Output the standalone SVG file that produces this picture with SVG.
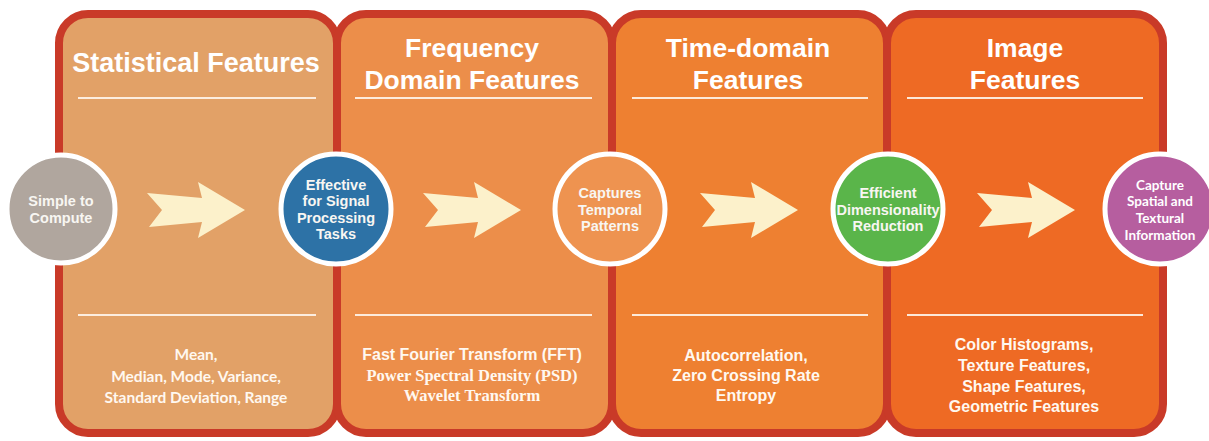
<svg xmlns="http://www.w3.org/2000/svg" width="1209" height="441" viewBox="0 0 1209 441">
  <style>
    .panel { stroke: #C93A28; stroke-width: 8; }
    .rule { stroke: #FFF6EC; stroke-width: 2; opacity: 0.9; }
    .title { font-family: "Liberation Sans", Arial, sans-serif; font-weight: 700; font-size: 26.5px; fill: #FFFFFF; text-anchor: middle; }
    .body { font-family: "Liberation Sans", Arial, sans-serif; font-weight: 700; font-size: 16px; fill: #FFF8F0; text-anchor: middle; }
    .body-h { font-family: Lato, "Open Sans", sans-serif; font-weight: 700; font-size: 15.5px; fill: #FFF8F0; text-anchor: middle; }
    .body-s { font-family: "Liberation Serif", "Times New Roman", serif; font-weight: 700; font-size: 16.5px; fill: #FFF8F0; text-anchor: middle; }
    .badge { stroke: #FFFFFF; stroke-width: 5; }
    .badge-t { font-family: "Liberation Sans", Arial, sans-serif; font-weight: 700; font-size: 14.5px; fill: #F8F6F2; text-anchor: middle; }
    .badge-h { font-family: Lato, "Open Sans", sans-serif; font-weight: 700; font-size: 13.5px; fill: #FFFFFF; text-anchor: middle; }
    .arrow { fill: #FCF1CB; }
  </style>
  <defs>
    <!-- swept chevron arrow, origin at tail-left, vertical centre at 0 -->
    <polygon id="chev" points="0,-17 55,-12 51,-28 98,0 51,28 55,12 2,17 15,0"/>
  </defs>

  <rect width="1209" height="441" fill="#FFFFFF"/>

  <!-- feature panels -->
  <g id="panel-statistical">
    <rect class="panel" x="59" y="14" width="278" height="419" rx="29" fill="#E2A167"/>
    <text class="title" x="196" y="72" style="font-size:27px">Statistical Features</text>
    <line class="rule" x1="78" y1="98" x2="316" y2="98"/>
    <line class="rule" x1="78" y1="315" x2="316" y2="315"/>
    <text class="body-h" x="196" y="360">Mean,</text>
    <text class="body-h" x="196" y="382">Median, Mode, Variance,</text>
    <text class="body-h" x="196" y="403">Standard Deviation, Range</text>
  </g>
  <g id="panel-frequency">
    <rect class="panel" x="337" y="14" width="275" height="419" rx="29" fill="#EC8E4A"/>
    <text class="title" x="472" y="57">Frequency</text>
    <text class="title" x="472" y="89">Domain Features</text>
    <line class="rule" x1="355" y1="98" x2="592" y2="98"/>
    <line class="rule" x1="355" y1="315" x2="592" y2="315"/>
    <text class="body" x="472" y="360">Fast Fourier Transform (FFT)</text>
    <text class="body-s" x="472" y="381">Power Spectral Density (PSD)</text>
    <text class="body-s" x="472" y="401">Wavelet Transform</text>
  </g>
  <g id="panel-time">
    <rect class="panel" x="612" y="14" width="275" height="419" rx="29" fill="#EE8031"/>
    <text class="title" x="748" y="57">Time-domain</text>
    <text class="title" x="748" y="89">Features</text>
    <line class="rule" x1="632" y1="98" x2="868" y2="98"/>
    <line class="rule" x1="632" y1="315" x2="868" y2="315"/>
    <text class="body" x="746" y="361">Autocorrelation,</text>
    <text class="body" x="746" y="381">Zero Crossing Rate</text>
    <text class="body" x="746" y="401">Entropy</text>
  </g>
  <g id="panel-image">
    <rect class="panel" x="887" y="14" width="276" height="419" rx="29" fill="#EE6A24"/>
    <text class="title" x="1025" y="57">Image</text>
    <text class="title" x="1025" y="89">Features</text>
    <line class="rule" x1="907" y1="98" x2="1143" y2="98"/>
    <line class="rule" x1="907" y1="315" x2="1143" y2="315"/>
    <text class="body" x="1024" y="350">Color Histograms,</text>
    <text class="body" x="1024" y="371">Texture Features,</text>
    <text class="body" x="1024" y="392">Shape Features,</text>
    <text class="body" x="1024" y="412">Geometric Features</text>
  </g>

  <!-- connectors: arrows between the benefit badges -->
  <g id="connectors">
    <use href="#chev" class="arrow" x="147" y="210"/>
    <use href="#chev" class="arrow" x="423" y="210"/>
    <use href="#chev" class="arrow" x="700" y="210"/>
    <use href="#chev" class="arrow" x="977" y="210"/>
  </g>

  <!-- benefit badges -->
  <g id="badge-simple">
    <circle class="badge" cx="61" cy="209" r="54" fill="#B0A69E"/>
    <text class="badge-t" x="61" y="206">Simple to</text>
    <text class="badge-t" x="61" y="223">Compute</text>
  </g>
  <g id="badge-signal">
    <circle class="badge" cx="336" cy="209" r="55" fill="#2D72A6"/>
    <text class="badge-t" x="336" y="190">Effective</text>
    <text class="badge-t" x="336" y="206">for Signal</text>
    <text class="badge-t" x="336" y="223">Processing</text>
    <text class="badge-t" x="336" y="239">Tasks</text>
  </g>
  <g id="badge-temporal">
    <circle class="badge" cx="610" cy="209" r="55" fill="#EE9350"/>
    <text class="badge-t" x="610" y="198">Captures</text>
    <text class="badge-t" x="610" y="215">Temporal</text>
    <text class="badge-t" x="610" y="231">Patterns</text>
  </g>
  <g id="badge-dimensionality">
    <circle class="badge" cx="888" cy="209" r="55" fill="#5AB54A"/>
    <text class="badge-t" x="888" y="198">Efficient</text>
    <text class="badge-t" x="888" y="215">Dimensionality</text>
    <text class="badge-t" x="888" y="231">Reduction</text>
  </g>
  <g id="badge-spatial">
    <circle class="badge" cx="1160" cy="209" r="55" fill="#B65E9F"/>
    <text class="badge-h" x="1160" y="190">Capture</text>
    <text class="badge-h" x="1160" y="206">Spatial and</text>
    <text class="badge-h" x="1160" y="223">Textural</text>
    <text class="badge-h" x="1160" y="240">Information</text>
  </g>
</svg>
